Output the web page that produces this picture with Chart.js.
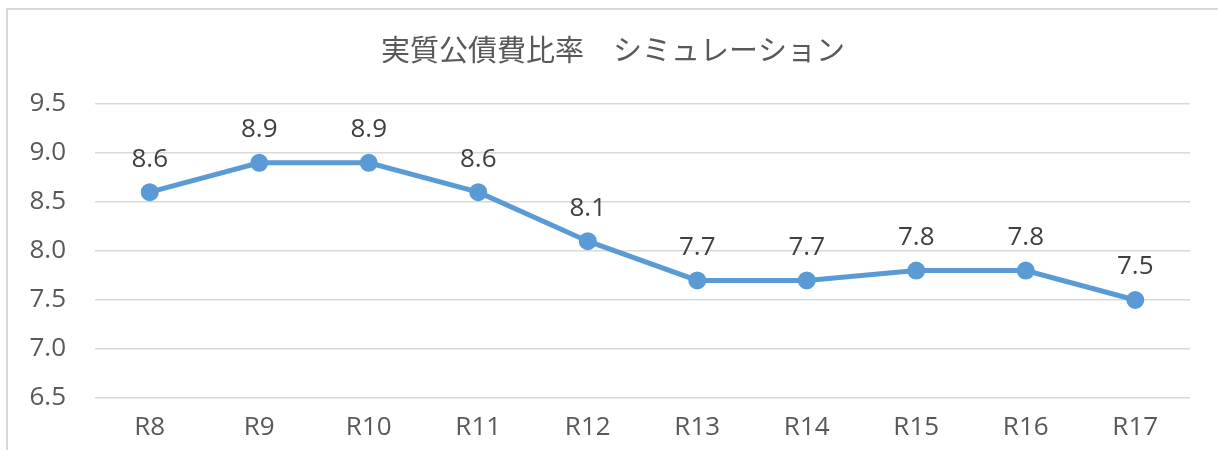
<html lang="ja">
<head>
    <meta charset="UTF-8">
    <title>実質公債費比率 シミュレーション</title>
    <style>
        body {
            margin: 0;
            background: #fff;
            overflow: hidden;
        }
        .wrap {
            position: absolute;
            left: 0;
            top: 0;
            width: 1218px;
            height: 450px;
        }
        .frame {
            position: absolute;
            left: 6px;
            top: 8px;
            width: 1240px;
            height: 470px;
            border: 2px solid #d9d9d9;
            pointer-events: none;
        }
    </style>
</head>
<body>
    <div class="wrap">
        <canvas id="ratioChart" width="1218" height="450"></canvas>
    </div>
    <div class="frame"></div>

    <script src="https://cdn.jsdelivr.net/npm/chart.js"></script>
    <script>
        // values
        const years = ['R8', 'R9', 'R10', 'R11', 'R12', 'R13', 'R14', 'R15', 'R16', 'R17'];
        const ratio = [8.6, 8.9, 8.9, 8.6, 8.1, 7.7, 7.7, 7.8, 7.8, 7.5];
        const yTicks = [6.5, 7.0, 7.5, 8.0, 8.5, 9.0, 9.5];
        const chartTitle = '実質公債費比率　シミュレーション';

        const numFont = '"Open Sans", "Noto Sans CJK JP", sans-serif';

        // title is centred on the whole frame, not on the plot, so draw it here
        const frameTitle = {
            id: 'frameTitle',
            afterDraw(chart) {
                const ctx = chart.ctx;
                ctx.save();
                ctx.fillStyle = '#595959';
                ctx.font = '29px "Noto Sans CJK JP", sans-serif';
                ctx.textAlign = 'center';
                ctx.textBaseline = 'middle';
                ctx.fillText(chartTitle, 613, 50);
                ctx.restore();
            }
        };

        // draws the value above each point
        const valueLabels = {
            id: 'valueLabels',
            afterDatasetsDraw(chart) {
                const ctx = chart.ctx;
                const meta = chart.getDatasetMeta(0);
                ctx.save();
                ctx.fillStyle = '#404040';
                ctx.font = '26px ' + numFont;
                ctx.textAlign = 'center';
                ctx.textBaseline = 'middle';
                meta.data.forEach((pt, i) => {
                    ctx.fillText(ratio[i].toFixed(1), pt.x, pt.y - 33);
                });
                ctx.restore();
            }
        };

        const ctx = document.getElementById('ratioChart').getContext('2d');
        new Chart(ctx, {
            type: 'line',
            data: {
                labels: years,
                datasets: [{
                    data: ratio,
                    borderColor: '#5b9bd5',
                    backgroundColor: '#5b9bd5',
                    borderWidth: 5,
                    pointRadius: 6.5,
                    pointHoverRadius: 6.5,
                    tension: 0
                }]
            },
            options: {
                responsive: false,
                animation: false,
                layout: {
                    padding: { left: 0, right: 28, top: 104, bottom: 6 }
                },
                plugins: {
                    legend: { display: false },
                    tooltip: { enabled: false },
                    title: { display: false }
                },
                scales: {
                    x: {
                        offset: true,
                        afterFit(scale) {
                            scale.height = 46;
                        },
                        grid: { display: false, drawTicks: false },
                        border: { display: false },
                        ticks: {
                            color: '#595959',
                            padding: 14,
                            font: { family: numFont, size: 26 }
                        }
                    },
                    y: {
                        min: 6.5,
                        max: 9.5,
                        afterBuildTicks(scale) {
                            scale.ticks = yTicks.map(v => ({ value: v }));
                        },
                        afterFit(scale) {
                            scale.width = 95;
                        },
                        grid: { color: '#d9d9d9', lineWidth: 1.5, drawTicks: false },
                        border: { display: false },
                        ticks: {
                            color: '#595959',
                            padding: 29,
                            font: { family: numFont, size: 26 },
                            callback: v => v.toFixed(1)
                        }
                    }
                }
            },
            plugins: [valueLabels, frameTitle]
        });
    </script>
</body>
</html>
